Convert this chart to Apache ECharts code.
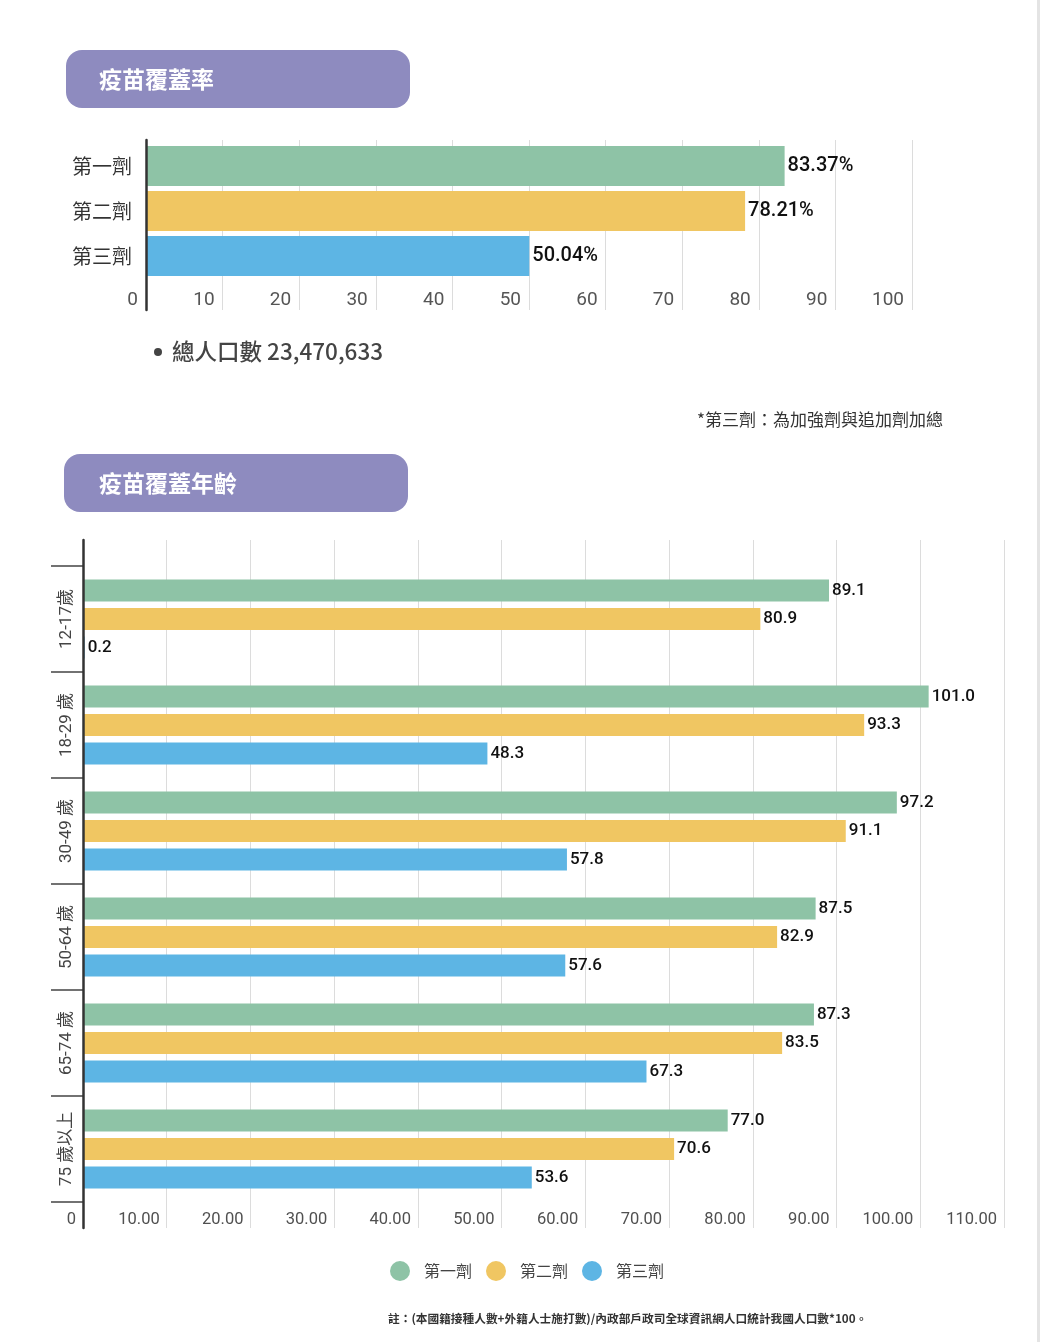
<!DOCTYPE html>
<html><head><meta charset="utf-8">
<script src="https://cdn.jsdelivr.net/npm/echarts@6/dist/echarts.min.js"></script>
<style>html,body{margin:0;padding:0;background:#fff}#c{width:1040px;height:1342px}</style>
</head><body><div id="c"></div>
<script>
const doseCats = ['第一劑', '第二劑', '第三劑'];
const doseValues = [83.37, 78.21, 50.04];
const doseColors = ['#8ec3a6', '#f0c662', '#5db5e4'];
const topTicks = [0, 100, 10];
const ageCats = ['12-17歲', '18-29 歲', '30-49 歲', '50-64 歲', '65-74 歲', '75 歲以上'];
const dose1 = [89.1, 101.0, 97.2, 87.5, 87.3, 77.0];
const dose2 = [80.9, 93.3, 91.1, 82.9, 83.5, 70.6];
const dose3 = [0.2, 48.3, 57.8, 57.6, 67.3, 53.6];
const bottomTicks = [0, 110, 10];
const seriesNames = ['第一劑', '第二劑', '第三劑'];

const FONT = 'Roboto, "Noto Sans CJK TC", sans-serif';
const CJK = '"Noto Sans CJK TC", sans-serif';
const chart = echarts.init(document.getElementById('c'), null, {renderer: 'canvas'});

const gridLineStyle = {color: '#dcdcdc', width: 1};

chart.setOption({
  backgroundColor: '#fff',
  textStyle: {fontFamily: FONT},
  grid: [
    {left: 146, width: 766, top: 140, height: 170},
    {left: 146, width: 766, top: 143.5, height: 135},
    {left: 83, width: 921, top: 540, height: 688},
    {left: 83, width: 921, top: 566, height: 636}
  ],
  xAxis: [
    {gridIndex: 0, type: 'value', min: topTicks[0], max: topTicks[1], interval: topTicks[2],
      axisLine: {show: false}, axisTick: {show: false},
      splitLine: {show: true, lineStyle: gridLineStyle},
      axisLabel: {inside: true, margin: 0, align: 'right', padding: [0, 8, 0, 0], fontSize: 19, color: '#555', fontFamily: FONT}},
    {gridIndex: 1, type: 'value', min: topTicks[0], max: topTicks[1], show: false},
    {gridIndex: 2, type: 'value', min: bottomTicks[0], max: bottomTicks[1], interval: bottomTicks[2],
      axisLine: {show: false}, axisTick: {show: false},
      splitLine: {show: true, lineStyle: gridLineStyle},
      axisLabel: {inside: true, margin: 0, align: 'right', padding: [0, 7, 0, 0], fontSize: 16.5, color: '#505050', fontFamily: FONT,
        formatter: v => v === 0 ? '0' : v.toFixed(2)}},
    {gridIndex: 3, type: 'value', min: bottomTicks[0], max: bottomTicks[1], show: false}
  ],
  yAxis: [
    {gridIndex: 0, type: 'value', min: 0, max: 1, z: 5,
      axisLine: {show: true, lineStyle: {color: '#333', width: 2.5}},
      axisTick: {show: false}, axisLabel: {show: false}, splitLine: {show: false}},
    {gridIndex: 1, type: 'category', data: doseCats, inverse: true,
      axisLine: {show: false}, axisTick: {show: false},
      axisLabel: {fontSize: 20, color: '#333', margin: 14, fontFamily: CJK}},
    {gridIndex: 2, type: 'value', min: 0, max: 1, z: 5,
      axisLine: {show: true, lineStyle: {color: '#333', width: 2.5}},
      axisTick: {show: false}, axisLabel: {show: false}, splitLine: {show: false}},
    {gridIndex: 3, type: 'category', data: ageCats, inverse: true,
      axisLine: {show: false},
      axisTick: {show: true, length: 32, lineStyle: {color: '#444', width: 1.5}},
      axisLabel: {rotate: 90, fontSize: 17, color: '#444', margin: 8, fontFamily: FONT}}
  ],
  legend: {
    left: 390, top: 1261, padding: 0, itemWidth: 20, itemHeight: 20, itemGap: 14, icon: 'circle',
    data: seriesNames,
    textStyle: {fontSize: 16, color: '#444', fontFamily: CJK, padding: [0, 0, 0, 9]}
  },
  series: [
    {type: 'bar', name: 'overall', xAxisIndex: 1, yAxisIndex: 1, barWidth: 40,
      data: doseValues.map((v, i) => ({value: v, itemStyle: {color: doseColors[i]}})),
      label: {show: true, position: 'right', distance: 3, formatter: p => p.value.toFixed(2) + '%',
        fontSize: 20, color: '#111', fontWeight: 500, fontFamily: FONT}},
    ...[dose1, dose2, dose3].map((d, i) => ({
      type: 'bar', name: seriesNames[i], xAxisIndex: 3, yAxisIndex: 3, barWidth: 22, barGap: '30%',
      itemStyle: {color: doseColors[i]}, data: d,
      label: {show: true, position: 'right', distance: 3, formatter: p => p.value.toFixed(1),
        fontSize: 17, color: '#111', fontWeight: 500, fontFamily: FONT}
    }))
  ],
  graphic: [
    {type: 'rect', shape: {x: 66, y: 50, width: 344, height: 58, r: 16}, style: {fill: '#8e8bbf'}},
    {type: 'text', x: 99, y: 79, style: {text: '疫苗覆蓋率', fill: '#fff', fontSize: 23, fontWeight: 'bold',
      fontFamily: CJK, textVerticalAlign: 'middle'}},
    {type: 'rect', shape: {x: 64, y: 454, width: 344, height: 58, r: 16}, style: {fill: '#8e8bbf'}},
    {type: 'text', x: 99, y: 483, style: {text: '疫苗覆蓋年齡', fill: '#fff', fontSize: 23, fontWeight: 'bold',
      fontFamily: CJK, textVerticalAlign: 'middle'}},
    {type: 'circle', shape: {cx: 158, cy: 352, r: 4}, style: {fill: '#444'}},
    {type: 'text', x: 172, y: 351, style: {text: '總人口數 23,470,633', fill: '#444', fontSize: 22.5, fontWeight: 500,
      fontFamily: CJK, textVerticalAlign: 'middle'}},
    {type: 'text', x: 943, y: 420, style: {text: '*第三劑：為加強劑與追加劑加總', fill: '#333', fontSize: 17,
      fontFamily: CJK, textAlign: 'right', textVerticalAlign: 'middle'}},
    {type: 'text', x: 388, y: 1319, style: {text: '註：(本國籍接種人數+外籍人士施打數)/內政部戶政司全球資訊網人口統計我國人口數*100。',
      fill: '#333', fontSize: 11.7, fontWeight: 'bold', fontFamily: CJK, textVerticalAlign: 'middle'}},
    {type: 'rect', shape: {x: 1037, y: 0, width: 3, height: 1342}, style: {fill: '#e4e4e4'}}
  ]
});
</script></body></html>
